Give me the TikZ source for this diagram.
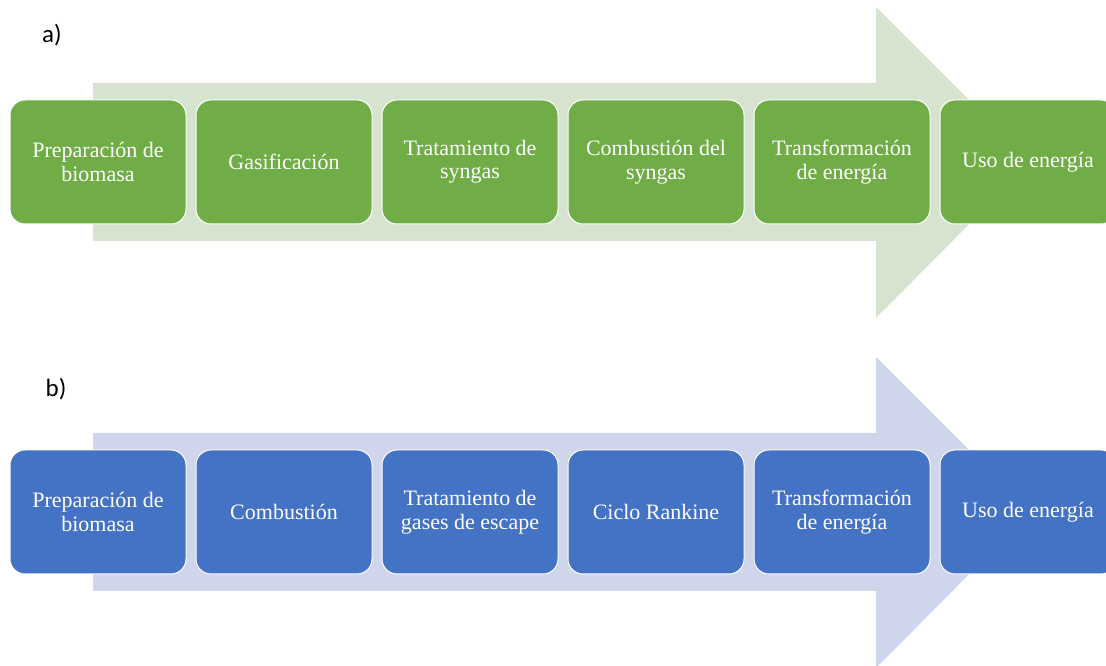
\documentclass[tikz,border=0pt]{standalone}
\usepackage{fontspec}
\setmainfont{Liberation Serif}
\newfontfamily\labelfont{Carlito}
\usepackage{tikz}
\usetikzlibrary{positioning}

\definecolor{stepgreen}{RGB}{112,173,71}
\definecolor{arrowgreen}{RGB}{214,227,207}
\definecolor{stepblue}{RGB}{68,114,196}
\definecolor{arrowblue}{RGB}{207,213,234}

\begin{document}
\begin{tikzpicture}[x=1pt, y=1pt,
        stage/.style={rectangle, rounded corners=15pt, draw=white, line width=1pt, minimum width=176pt, minimum height=124pt, align=center, text=white, font=\fontsize{22}{23.5}\selectfont},
        greenstage/.style={stage, fill=stepgreen},
        bluestage/.style={stage, fill=stepblue},
        tag/.style={font=\labelfont\fontsize{25}{27}\selectfont}
      ]
        \useasboundingbox (0,0) rectangle (1106,666);

        % a) gasification route
        \fill[arrowgreen] (93,583) -- (876,583) -- (876,659) -- (1031,504) -- (876,348) -- (876,425) -- (93,425) -- cycle;
        \node[tag]         (taga)  at (52,631)                      {a)};
        \node[greenstage]  (a1)    at (98,504)                      {Preparación de\\biomasa};
        \node[greenstage]  (a2)    [right=9pt of a1]                {Gasificación};
        \node[greenstage]  (a3)    [right=9pt of a2]                {Tratamiento de\\syngas};
        \node[greenstage]  (a4)    [right=9pt of a3]                {Combustión del\\syngas};
        \node[greenstage]  (a5)    [right=9pt of a4]                {Transformación\\de energía};
        \node[greenstage]  (a6)    [right=9pt of a5]                {Uso de energía};

        % b) direct combustion route
        \fill[arrowblue] (93,233) -- (876,233) -- (876,309) -- (1031,154) -- (876,-2) -- (876,75) -- (93,75) -- cycle;
        \node[tag]         (tagb)  at (56,277)                      {b)};
        \node[bluestage]   (b1)    at (98,154)                      {Preparación de\\biomasa};
        \node[bluestage]   (b2)    [right=9pt of b1]                {Combustión};
        \node[bluestage]   (b3)    [right=9pt of b2]                {Tratamiento de\\gases de escape};
        \node[bluestage]   (b4)    [right=9pt of b3]                {Ciclo Rankine};
        \node[bluestage]   (b5)    [right=9pt of b4]                {Transformación\\de energía};
        \node[bluestage]   (b6)    [right=9pt of b5]                {Uso de energía};
      \end{tikzpicture}
\end{document}
